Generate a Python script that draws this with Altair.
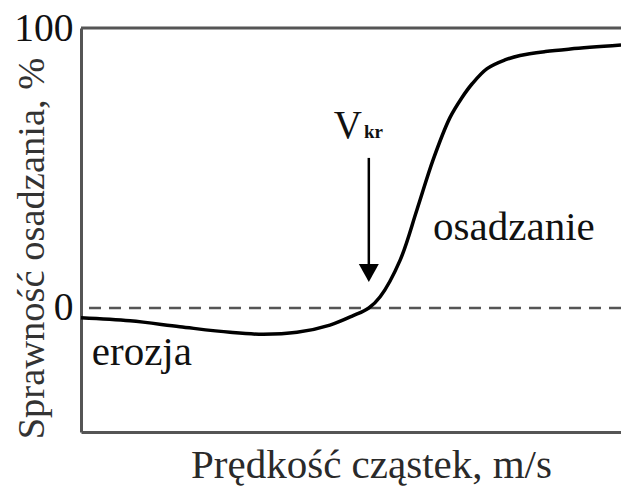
import altair as alt
import pandas as pd

# Deposition efficiency curve (velocity in relative units 0-100, efficiency in %)
velocity = [0, 9.1, 18.3, 27.6, 33.7, 40.0, 46.1, 50.4, 53.3, 55.4, 59.1,
            62.2, 65.2, 68.3, 70.5, 72.4, 75.2, 78.5, 81.3, 86.0, 90.6, 100]
efficiency = [-3.5, -4.6, -6.7, -8.7, -9.4, -8.7, -6.1, -2.75, 0, 4.0, 17.1,
              35.0, 52.9, 67.9, 75.0, 80.0, 85.5, 88.6, 90.2, 91.6, 92.5, 93.9]

# Critical velocity marker
v_kr = 53.3
arrow_top = 53.6
arrow_base = 15.0
arrow_head = 12.5

y_ticks = [0, 100]

FONT = "Liberation Serif"
INK = "#111111"
FRAME = "#555555"

curve_df = pd.DataFrame({"v": velocity, "eff": efficiency})

x_scale = alt.Scale(domain=[0, 100], nice=False, zero=False)
y_scale = alt.Scale(domain=[-44.3, 100], nice=False, zero=False)

x_axis = alt.Axis(
    title="Prędkość cząstek, m/s",
    labels=False, ticks=False, grid=False,
    domainColor=FRAME, domainWidth=3,
    titleFont=FONT, titleFontSize=41, titleFontWeight=400,
    titleColor="#2a2a2a", titleX=290, titleY=45,
    titleBaseline="alphabetic", titleAlign="center",
)
y_axis = alt.Axis(
    title="Sprawność osadzania, %",
    values=y_ticks, ticks=False, grid=False,
    domainColor=FRAME, domainWidth=3,
    labelFont=FONT, labelFontSize=39.5, labelColor=INK, labelPadding=8,
    titleFont=FONT, titleFontSize=38.5, titleFontWeight=400,
    titleColor="#333333", titleAngle=270, titleX=-38, titleY=220,
    titleBaseline="alphabetic", titleAlign="center",
)

curve = alt.Chart(curve_df).mark_line(
    color="#000000", strokeWidth=3.5, interpolate="catmull-rom"
).encode(
    x=alt.X("v:Q", scale=x_scale, axis=x_axis),
    y=alt.Y("eff:Q", scale=y_scale, axis=y_axis),
)

zero_line = alt.Chart(pd.DataFrame({"y": [0]})).mark_rule(
    color=FRAME, strokeWidth=2.5, strokeDash=[12, 8]
).encode(y=alt.Y("y:Q", scale=y_scale))

top_line = alt.Chart(pd.DataFrame({"y": [100]})).mark_rule(
    color=FRAME, strokeWidth=3
).encode(y=alt.Y("y:Q", scale=y_scale))

shaft = alt.Chart(pd.DataFrame({"x": [v_kr], "y": [arrow_top], "y2": [arrow_base]})).mark_rule(
    color="#000000", strokeWidth=2.5
).encode(
    x=alt.X("x:Q", scale=x_scale),
    y=alt.Y("y:Q", scale=y_scale),
    y2="y2:Q",
)

head = alt.Chart(pd.DataFrame({"x": [v_kr], "y": [arrow_head]})).mark_point(
    shape="M-1,-0.9L1,-0.9L0,0.9Z", size=400, filled=True,
    color="#000000", opacity=1, strokeWidth=0
).encode(
    x=alt.X("x:Q", scale=x_scale),
    y=alt.Y("y:Q", scale=y_scale),
)


def text_layer(x, y, text, size, align, bold=False):
    style = dict(font=FONT, fontSize=size, color=INK, baseline="alphabetic", align=align)
    if bold:
        style["fontWeight"] = "bold"
    return alt.Chart(pd.DataFrame({"x": [x], "y": [y], "text": [text]})).mark_text(
        **style
    ).encode(
        x=alt.X("x:Q", scale=x_scale),
        y=alt.Y("y:Q", scale=y_scale),
        text="text:N",
    )


v_label = text_layer(52.0, 60.7, "V", 39, "right")
kr_label = text_layer(52.4, 60.7, "kr", 19, "left", bold=True)
dep_label = text_layer(65.2, 24.3, "osadzanie", 41, "left")
ero_label = text_layer(2.0, -20.4, "erozja", 41, "left")

chart = alt.layer(
    zero_line, top_line, curve, shaft, head, v_label, kr_label, dep_label, ero_label
).properties(
    width=540, height=404,
    autosize=alt.AutoSizeParams(type="none"),
    padding={"left": 81, "top": 28, "right": 0, "bottom": 55},
    background="white",
).configure_view(stroke=None)

chart.save("out.html", embed_options={"renderer": "svg", "actions": False})
